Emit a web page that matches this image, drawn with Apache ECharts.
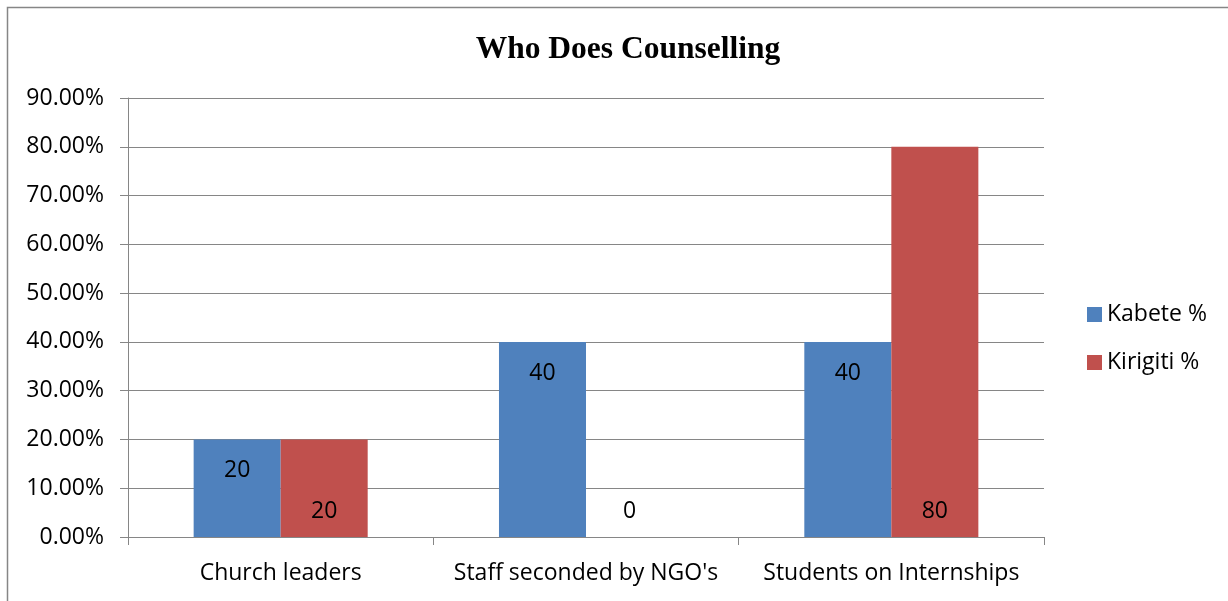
<!DOCTYPE html>
<html>
<head>
<meta charset="utf-8">
<script src="https://cdn.jsdelivr.net/npm/echarts@6/dist/echarts.min.js"></script>
<style>
  html, body { margin: 0; padding: 0; background: #fff; }
  #chart { width: 1228px; height: 601px; }
</style>
</head>
<body>
<div id="chart"></div>
<script>
// data
var categories = ["Church leaders", "Staff seconded by NGO's", "Students on Internships"];
var seriesNames = ["Kabete %", "Kirigiti %"];
var kabete = [20, 40, 40];
var kirigiti = [20, 0, 80];
var yTicks = [0, 10, 20, 30, 40, 50, 60, 70, 80, 90];

var font = 'Open Sans';
var fs = 23;
var axisGray = '#868686';

var chart = echarts.init(document.getElementById('chart'));
chart.setOption({
    animation: false,
    title: {
        text: 'Who Does Counselling',
        left: 623,
        top: 29,
        textAlign: 'center',
        textStyle: {
            fontFamily: 'Liberation Serif',
            fontWeight: 'bold',
            fontSize: 31.5,
            color: '#000'
        }
    },
    legend: {
        orient: 'vertical',
        left: 1087,
        top: 303,
        padding: 0,
        itemWidth: 15,
        itemHeight: 15,
        itemGap: 25,
        icon: 'rect',
        textStyle: { fontFamily: font, fontSize: fs, color: '#000' },
        data: seriesNames
    },
    // 外框
    graphic: [{
        type: 'rect',
        shape: { x: 7.5, y: 7.5, width: 1300, height: 700 },
        style: { fill: null, stroke: '#868686', lineWidth: 1.5 },
        silent: true
    }],
    grid: { left: 128, right: 184, top: 98, bottom: 64 },
    xAxis: {
        type: 'category',
        data: categories,
        axisLine: { lineStyle: { color: axisGray } },
        axisTick: { show: true, length: 8, lineStyle: { color: axisGray } },
        axisLabel: { interval: 0, hideOverlap: false, fontFamily: font, fontSize: fs, color: '#000', margin: 25 }
    },
    yAxis: {
        type: 'value',
        min: yTicks[0],
        max: yTicks[yTicks.length - 1],
        interval: 10,
        axisLine: { show: true, lineStyle: { color: axisGray } },
        axisTick: { show: true, length: 8, lineStyle: { color: axisGray } },
        splitLine: { lineStyle: { color: axisGray } },
        axisLabel: {
            fontFamily: font, fontSize: fs, color: '#000', margin: 24,
            formatter: function (v) { return v.toFixed(2) + '%'; }
        }
    },
    series: [
        {
            name: seriesNames[0],
            type: 'bar',
            data: kabete,
            barGap: '0%',
            barCategoryGap: '43%',
            itemStyle: { color: '#4F81BD' },
            label: {
                show: true, position: 'insideTop', distance: 20,
                fontFamily: font, fontSize: fs, color: '#000'
            }
        },
        {
            name: seriesNames[1],
            type: 'bar',
            data: kirigiti,
            barGap: '0%',
            barCategoryGap: '43%',
            itemStyle: { color: '#C0504D' },
            label: {
                show: true, position: 'insideBottom', distance: 14.5,
                fontFamily: font, fontSize: fs, color: '#000'
            }
        }
    ]
});
</script>
</body>
</html>
